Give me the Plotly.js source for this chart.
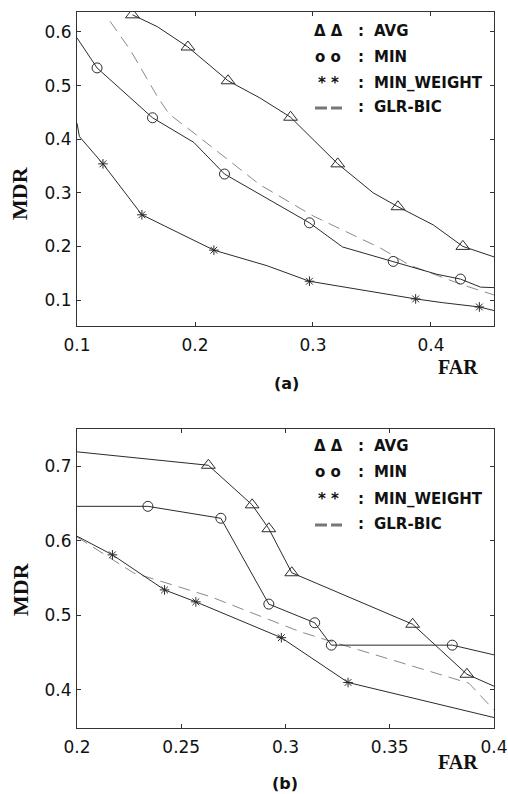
<!DOCTYPE html>
<html>
<head>
<meta charset="utf-8">
<script src="https://cdn.plot.ly/plotly-3.0.1.min.js"></script>
<style>
html,body{margin:0;padding:0;background:#fff;}
#chart{width:508px;height:794px;}
</style>
</head>
<body>
<div id="chart"></div>
<script>
// ---------- Panel (a) data ----------
const avgA_lineX = [0.147,0.168,0.194,0.228,0.255,0.281,0.321,0.351,0.372,0.402,0.427,0.454];
const avgA_lineY = [0.632,0.610,0.572,0.509,0.477,0.441,0.354,0.300,0.274,0.240,0.200,0.180];
const avgA_markX = [0.147,0.194,0.228,0.281,0.321,0.372,0.427];
const avgA_markY = [0.632,0.572,0.509,0.441,0.354,0.274,0.200];

const minA_lineX = [0.100,0.117,0.164,0.199,0.225,0.297,0.325,0.368,0.405,0.425,0.442,0.454];
const minA_lineY = [0.589,0.533,0.440,0.394,0.335,0.244,0.199,0.172,0.148,0.139,0.124,0.123];
const minA_markX = [0.117,0.164,0.225,0.297,0.368,0.425];
const minA_markY = [0.533,0.440,0.335,0.244,0.172,0.139];

const mwA_lineX = [0.100,0.102,0.122,0.155,0.216,0.261,0.297,0.387,0.410,0.441,0.454];
const mwA_lineY = [0.430,0.405,0.354,0.259,0.193,0.164,0.135,0.102,0.095,0.087,0.080];
const mwA_markX = [0.122,0.155,0.216,0.297,0.387,0.441];
const mwA_markY = [0.354,0.259,0.193,0.135,0.102,0.087];

const glrA_X = [0.128,0.145,0.168,0.178,0.200,0.221,0.255,0.300,0.357,0.382,0.427,0.454];
const glrA_Y = [0.620,0.567,0.480,0.447,0.410,0.374,0.315,0.257,0.197,0.165,0.128,0.109];

// ---------- Panel (b) data ----------
const avgB_lineX = [0.200,0.263,0.284,0.292,0.303,0.361,0.387,0.400];
const avgB_lineY = [0.719,0.701,0.648,0.616,0.557,0.488,0.421,0.405];
const avgB_markX = [0.263,0.284,0.292,0.303,0.361,0.387];
const avgB_markY = [0.701,0.648,0.616,0.557,0.488,0.421];

const minB_lineX = [0.200,0.234,0.269,0.292,0.314,0.322,0.380,0.400];
const minB_lineY = [0.646,0.646,0.630,0.515,0.490,0.460,0.460,0.447];
const minB_markX = [0.234,0.269,0.292,0.314,0.322,0.380];
const minB_markY = [0.646,0.630,0.515,0.490,0.460,0.460];

const mwB_lineX = [0.200,0.217,0.242,0.257,0.298,0.330,0.400];
const mwB_lineY = [0.606,0.581,0.534,0.518,0.470,0.410,0.363];
const mwB_markX = [0.217,0.242,0.257,0.298,0.330];
const mwB_markY = [0.581,0.534,0.518,0.470,0.410];

const glrB_X = [0.200,0.227,0.264,0.307,0.323,0.347,0.371,0.388,0.400];
const glrB_Y = [0.605,0.557,0.525,0.478,0.464,0.444,0.424,0.409,0.373];

// ---------- Axis ticks ----------
const xTicksA = [0.1,0.2,0.3,0.4];
const xTickTextA = ["0.1","0.2","0.3","0.4"];
const yTicksA = [0.1,0.2,0.3,0.4,0.5,0.6];
const yTickTextA = ["0.1","0.2","0.3","0.4","0.5","0.6"];
const xTicksB = [0.2,0.25,0.3,0.35,0.4];
const xTickTextB = ["0.2","0.25","0.3","0.35","0.4"];
const yTicksB = [0.4,0.5,0.6,0.7];
const yTickTextB = ["0.4","0.5","0.6","0.7"];

const legendSymbols = ["Δ Δ","o o","* *",""];
const legendLabels = ["AVG","MIN","MIN_WEIGHT","GLR-BIC"];

// ---------- styling ----------
const W = 508, H = 794;
const LINE = '#2b2b2b';
const DASH = '#8a8a8a';
const SANS = 'DejaVu Sans, Liberation Sans, Arial, sans-serif';
const SERIF = 'Liberation Serif, Times New Roman, serif';
const px = v => v / W;
const py = v => 1 - v / H;

function lineTrace(x, y, xa, ya, color, dash, width){
  return {x:x, y:y, xaxis:xa, yaxis:ya, mode:'lines', type:'scatter',
          line:{color:color, width:width, dash:dash}, hoverinfo:'skip', showlegend:false};
}
function markTrace(x, y, xa, ya, symbol, size){
  return {x:x, y:y, xaxis:xa, yaxis:ya, mode:'markers', type:'scatter',
          marker:{symbol:symbol, size:size, color:LINE, line:{color:LINE, width:1}},
          hoverinfo:'skip', showlegend:false};
}

const data = [
  lineTrace(glrA_X, glrA_Y, 'x', 'y', DASH, '12px,7px', 1),
  lineTrace(avgA_lineX, avgA_lineY, 'x', 'y', LINE, 'solid', 1),
  lineTrace(minA_lineX, minA_lineY, 'x', 'y', LINE, 'solid', 1),
  lineTrace(mwA_lineX, mwA_lineY, 'x', 'y', LINE, 'solid', 1),
  markTrace(avgA_markX, avgA_markY, 'x', 'y', 'triangle-up-open', 12),
  markTrace(minA_markX, minA_markY, 'x', 'y', 'circle-open', 10),
  markTrace(mwA_markX, mwA_markY, 'x', 'y', 'asterisk-open', 8),

  lineTrace(glrB_X, glrB_Y, 'x2', 'y2', DASH, '12px,7px', 1),
  lineTrace(avgB_lineX, avgB_lineY, 'x2', 'y2', LINE, 'solid', 1),
  lineTrace(minB_lineX, minB_lineY, 'x2', 'y2', LINE, 'solid', 1),
  lineTrace(mwB_lineX, mwB_lineY, 'x2', 'y2', LINE, 'solid', 1),
  markTrace(avgB_markX, avgB_markY, 'x2', 'y2', 'triangle-up-open', 12),
  markTrace(minB_markX, minB_markY, 'x2', 'y2', 'circle-open', 10),
  markTrace(mwB_markX, mwB_markY, 'x2', 'y2', 'asterisk-open', 8)
];

const axisCommon = {
  showline:true, mirror:'ticks', linecolor:'#333', linewidth:1,
  ticks:'inside', ticklen:4, tickcolor:'#333', tickwidth:1,
  showgrid:false, zeroline:false, tickmode:'array',
  tickfont:{family:SANS, size:17, color:'#111'}, fixedrange:true
};

const xdom = [px(77), px(494)];
const layout = {
  width:W, height:H,
  margin:{l:0, r:0, t:0, b:0},
  paper_bgcolor:'#fff', plot_bgcolor:'#fff',
  showlegend:false,
  xaxis: Object.assign({}, axisCommon, {domain:xdom, range:[0.1,0.4534], tickvals:xTicksA, ticktext:xTickTextA, anchor:'y', ticklabelstandoff:4}),
  yaxis: Object.assign({}, axisCommon, {domain:[py(326), py(12)], range:[0.0515,0.6373], tickvals:yTicksA, ticktext:yTickTextA, anchor:'x', ticklabelstandoff:1}),
  xaxis2: Object.assign({}, axisCommon, {domain:xdom, range:[0.2,0.4], tickvals:xTicksB, ticktext:xTickTextB, anchor:'y2', ticklabelstandoff:4}),
  yaxis2: Object.assign({}, axisCommon, {domain:[py(728), py(429)], range:[0.349,0.7496], tickvals:yTicksB, ticktext:yTickTextB, anchor:'x2', ticklabelstandoff:1}),
  annotations:[], shapes:[]
};

function ann(text, x, y, opts){
  layout.annotations.push(Object.assign({
    text:text, xref:'paper', yref:'paper', x:px(x), y:py(y),
    xanchor:'center', yanchor:'middle', showarrow:false,
    font:{family:SANS, size:15, color:'#111'}
  }, opts||{}));
}

// axis titles and panel labels
ann('<b>MDR</b>', 20, 193, {textangle:-90, font:{family:SERIF, size:22, color:'#111'}});
ann('<b>MDR</b>', 20, 589, {textangle:-90, font:{family:SERIF, size:22, color:'#111'}});
ann('<b>FAR</b>', 458, 367, {font:{family:SERIF, size:20, color:'#111'}});
ann('<b>FAR</b>', 458, 762, {font:{family:SERIF, size:20, color:'#111'}});
ann('<b>(a)</b>', 286, 383, {font:{family:SANS, size:16, color:'#111'}});
ann('<b>(b)</b>', 285, 783, {font:{family:SANS, size:16, color:'#111'}});

// in-plot legends
function legendBlock(rows){
  rows.forEach((ry, i) => {
    if (legendSymbols[i]) {
      ann('<b>' + legendSymbols[i] + '</b>', 328, ry, {});
    } else {
      [[315,327],[331,342]].forEach(seg => {
        layout.shapes.push({type:'line', xref:'paper', yref:'paper',
          x0:px(seg[0]), x1:px(seg[1]), y0:py(ry+1), y1:py(ry+1),
          line:{color:'#777', width:3}});
      });
    }
    ann('<b>:</b>', 361, ry, {});
    ann('<b>' + legendLabels[i] + '</b>', 372, ry, {xanchor:'left'});
  });
}
legendBlock([31, 57, 83, 107]);
legendBlock([446, 472, 499, 524]);

Plotly.newPlot('chart', data, layout, {staticPlot:true, displayModeBar:false});
</script>
</body>
</html>
